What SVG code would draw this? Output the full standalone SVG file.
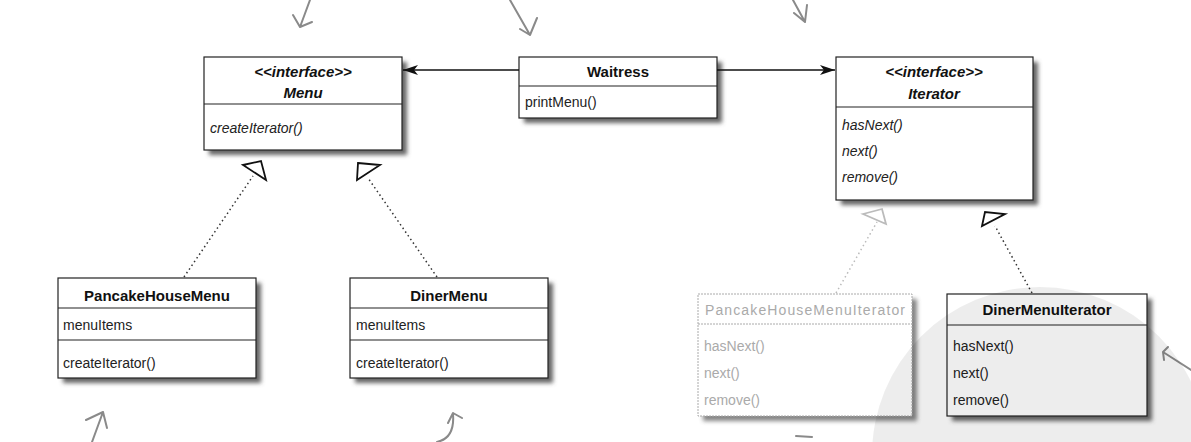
<svg xmlns="http://www.w3.org/2000/svg" width="1191" height="442" viewBox="0 0 1191 442">
<defs>
<style>
.box{fill:#fff;stroke:#222;stroke-width:1.2}
.ghost{fill:#fff;stroke:#aaa;stroke-width:1;stroke-dasharray:2 1}
.sh{fill:#666;filter:url(#blur)}
.div{stroke:#222;stroke-width:1.2}
.gdiv{stroke:#aaa;stroke-width:1;stroke-dasharray:2 1}
.t{font-family:"Liberation Sans",Arial,sans-serif;font-size:15px;font-weight:bold;fill:#111;text-anchor:middle}
.ti{font-family:"Liberation Sans",Arial,sans-serif;font-size:15px;font-weight:bold;font-style:italic;fill:#111;text-anchor:middle}
.m{font-family:"Liberation Sans",Arial,sans-serif;font-size:14px;fill:#222}
.mi{font-family:"Liberation Sans",Arial,sans-serif;font-size:14px;font-style:italic;fill:#222}
.g{font-family:"Liberation Sans",Arial,sans-serif;font-size:14px;fill:#aaa}
.assoc{stroke:#111;stroke-width:1.6;fill:none}
.real{stroke:#333;stroke-width:1.5;fill:none;stroke-dasharray:1.5 3}
.greal{stroke:#bbb;stroke-width:1.5;fill:none;stroke-dasharray:1.5 3}
.tri{fill:#fff;stroke:#111;stroke-width:1.8;stroke-linejoin:miter}
.gtri{fill:#fff;stroke:#bbb;stroke-width:1.8}
.note{stroke:#8a8a8a;stroke-width:2;fill:none;stroke-linecap:round;stroke-linejoin:round}
</style>
<filter id="blur" x="-10%" y="-10%" width="130%" height="130%"><feGaussianBlur stdDeviation="2"/></filter>
<marker id="arr" markerWidth="16" markerHeight="12" refX="15" refY="6" orient="auto" markerUnits="userSpaceOnUse">
<path d="M0,1 L15,6 L0,11 L4,6 Z" fill="#111"/>
</marker>
</defs>
<rect width="1191" height="442" fill="#fff"/>

<g id="Menu">
<rect class="sh" x="209" y="62" width="198" height="93"/>
<rect class="box" x="204" y="57" width="198" height="93"/>
<line class="div" x1="204" y1="104" x2="402" y2="104"/>
<text class="ti" x="303" y="77">&lt;&lt;interface&gt;&gt;</text>
<text class="ti" x="303" y="98" font-size="16">Menu</text>
<text class="mi" x="210" y="133">createIterator()</text>
</g>

<g id="Waitress">
<rect class="sh" x="524" y="62" width="198" height="61"/>
<rect class="box" x="519" y="57" width="198" height="61"/>
<line class="div" x1="519" y1="86" x2="717" y2="86"/>
<text class="t" x="618" y="77">Waitress</text>
<text class="m" x="525" y="107">printMenu()</text>
</g>

<g id="Iterator">
<rect class="sh" x="841" y="62" width="197" height="143"/>
<rect class="box" x="836" y="57" width="197" height="143"/>
<line class="div" x1="836" y1="107" x2="1033" y2="107"/>
<text class="ti" x="934" y="77">&lt;&lt;interface&gt;&gt;</text>
<text class="ti" x="934" y="99" font-size="16">Iterator</text>
<text class="mi" x="842" y="130">hasNext()</text>
<text class="mi" x="842" y="156">next()</text>
<text class="mi" x="842" y="182">remove()</text>
</g>

<g id="PancakeHouseMenu">
<rect class="sh" x="63" y="283" width="198" height="100"/>
<rect class="box" x="58" y="278" width="198" height="100"/>
<line class="div" x1="58" y1="308" x2="256" y2="308"/>
<line class="div" x1="58" y1="340" x2="256" y2="340"/>
<text class="t" x="157" y="301">PancakeHouseMenu</text>
<text class="m" x="63" y="330">menuItems</text>
<text class="m" x="63" y="368">createIterator()</text>
</g>

<g id="DinerMenu">
<rect class="sh" x="355" y="283" width="198" height="100"/>
<rect class="box" x="350" y="278" width="198" height="100"/>
<line class="div" x1="350" y1="308" x2="548" y2="308"/>
<line class="div" x1="350" y1="340" x2="548" y2="340"/>
<text class="t" x="449" y="301">DinerMenu</text>
<text class="m" x="356" y="330">menuItems</text>
<text class="m" x="356" y="368">createIterator()</text>
</g>

<g id="PancakeHouseMenuIterator">
<rect class="sh" x="703" y="299" width="214" height="122" opacity="0.8"/>
<rect class="ghost" x="698" y="294" width="214" height="122"/>
<line class="gdiv" x1="698" y1="324" x2="912" y2="324"/>
<text class="g" x="705" y="315" textLength="200" lengthAdjust="spacing">PancakeHouseMenuIterator</text>
<text class="g" x="704" y="351">hasNext()</text>
<text class="g" x="704" y="378">next()</text>
<text class="g" x="704" y="405">remove()</text>
</g>

<g id="DinerMenuIterator">
<rect class="sh" x="952" y="299" width="200" height="122"/>
<rect class="box" x="947" y="294" width="200" height="122"/>
<line class="div" x1="947" y1="325" x2="1147" y2="325"/>
<text class="t" x="1047" y="315">DinerMenuIterator</text>
<text class="m" x="953" y="351">hasNext()</text>
<text class="m" x="953" y="378">next()</text>
<text class="m" x="953" y="405">remove()</text>
</g>

<g id="connectors">
<line class="assoc" x1="519" y1="70" x2="403" y2="70" marker-end="url(#arr)"/>
<line class="assoc" x1="717" y1="70" x2="835" y2="70" marker-end="url(#arr)"/>
<line class="real" x1="184" y1="277" x2="253" y2="176"/>
<polygon class="tri" points="243,165 261,161 266,180"/>
<line class="real" x1="437" y1="277" x2="368" y2="178"/>
<polygon class="tri" points="358,163 380,165 357,180"/>
<line class="greal" x1="836" y1="293" x2="877" y2="222"/>
<polygon class="gtri" points="863,214 882,209 886,224"/>
<line class="real" x1="1032" y1="293" x2="995" y2="226"/>
<polygon class="tri" points="982,226 985,212 1005,214"/>
</g>

<g id="annotations">
<path class="note" d="M310,0 L300,27 M293,15 L300,27 L312,22"/>
<path class="note" d="M510,0 L530,35 M520,29 L530,35 L537,18"/>
<path class="note" d="M793,0 L805,22 M794,13 L805,22 L807,5"/>
<path class="note" d="M92,442 L103,412 M86,420 L103,412 L107,428"/>
<path class="note" d="M437,442 Q455,438 453,414 M448,423 L453,413 L462,418"/>
<path class="note" d="M796,436 L812,437"/>
<path class="note" d="M1191,370 L1163,352 M1168,347 L1163,352 L1164,360"/>
</g>

<circle cx="1040" cy="455" r="168" fill="#000" opacity="0.07"/>
</svg>
